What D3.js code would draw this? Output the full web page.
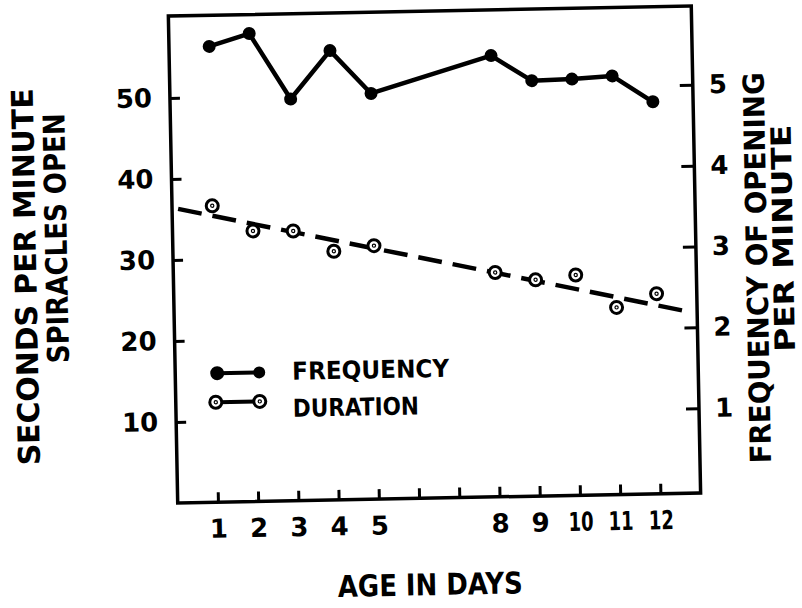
<!DOCTYPE html>
<html>

<head>
    <meta charset="utf-8" />
    <title>Spiracle opening by age</title>
    <style>
        body {
            margin: 0;
            background: #fff;
        }

        svg text {
            font-family: 'DejaVu Sans', sans-serif;
            font-weight: bold;
            fill: #000;
        }

        .tick line {
            stroke: #000;
            stroke-width: 3px;
        }
    </style>
</head>

<body>
    <div id="chart"></div>

    <script src="https://d3js.org/d3.v7.min.js"></script>
    <script>
        // values
        var days = [1, 2, 3, 4, 5, 8, 9, 10, 11, 12]
        var frequency = [5.59, 5.74, 4.92, 5.51, 4.97, 5.41, 5.09, 5.10, 5.13, 4.80]   // openings per minute (right axis)
        var duration = [36.6, 33.4, 33.3, 30.7, 31.3, 27.7, 26.7, 27.2, 23.1, 24.7]    // seconds per minute open (left axis)
        var trendDays = [0.15, 12.7]
        var trendSeconds = [36.3, 22.5]

        var dayTicks = [1, 2, 3, 4, 5, 6, 7, 8, 9, 10, 11, 12]
        var secondTicks = [10, 20, 30, 40, 50]
        var freqTicks = [1, 2, 3, 4, 5]
        var legendNames = ["FREQUENCY", "DURATION"]

        !(function() {
            "use strict"
            var width = 802,
                height = 608
            var frame = { left: 173, right: 696, top: 11, bottom: 498 }

            var svg = d3.select("#chart").append("svg")
                .attr("width", width)
                .attr("height", height)

            // the printed figure sits slightly askew on the page
            var root = svg.append("g")
                .attr("transform", "rotate(-1.1,435,255)")

            var x = d3.scaleLinear().domain([0, 13]).range([frame.left, frame.right])
            var ySec = d3.scaleLinear().domain([0, 60]).range([frame.bottom, 12])
            var yFreq = d3.scaleLinear().domain([0, 6]).range([494, 9])
            var fmt = d3.format("d")

            root.append("rect")
                .attr("x", frame.left)
                .attr("y", frame.top)
                .attr("width", frame.right - frame.left)
                .attr("height", frame.bottom - frame.top)
                .attr("fill", "none")
                .attr("stroke", "#000")
                .attr("stroke-width", 3.5)

            var xAxis = root.append("g")
                .attr("transform", "translate(0," + frame.bottom + ")")
                .call(d3.axisBottom(x)
                    .tickValues(dayTicks)
                    .tickSizeInner(-10)
                    .tickSizeOuter(0)
                    .tickPadding(17)
                    .tickFormat(function(d) {
                        return d === 6 || d === 7 ? "" : fmt(d)
                    }))
            var leftAxis = root.append("g")
                .attr("transform", "translate(" + frame.left + ",0)")
                .call(d3.axisLeft(ySec)
                    .tickValues(secondTicks)
                    .tickSizeInner(-10)
                    .tickSizeOuter(0)
                    .tickPadding(18)
                    .tickFormat(fmt))
            var rightAxis = root.append("g")
                .attr("transform", "translate(" + frame.right + ",0)")
                .call(d3.axisRight(yFreq)
                    .tickValues(freqTicks)
                    .tickSizeInner(-13)
                    .tickSizeOuter(0)
                    .tickPadding(16)
                    .tickFormat(fmt))

            ;[xAxis, leftAxis, rightAxis].forEach(function(a) {
                a.select(".domain").remove()
                a.attr("font-family", null)
                a.selectAll("text")
                    .style("font-size", "26px")
            })
            // hand-lettered two-digit day numbers are narrow
            xAxis.selectAll("text")
                .filter(function(d) { return d >= 10 })
                .attr("textLength", 25)
                .attr("lengthAdjust", "spacingAndGlyphs")

            // duration: dashed trend line with open circles
            root.append("line")
                .attr("x1", x(trendDays[0]))
                .attr("y1", ySec(trendSeconds[0]))
                .attr("x2", x(trendDays[1]))
                .attr("y2", ySec(trendSeconds[1]))
                .attr("stroke", "#000")
                .attr("stroke-width", 4.5)
                .attr("stroke-dasharray", "24,11")

            var durPts = root.append("g")
                .selectAll("g")
                .data(days)
                .enter().append("g")
                .attr("transform", function(d, i) {
                    return "translate(" + x(d) + "," + ySec(duration[i]) + ")"
                })
            openCircle(durPts)

            // frequency: solid line with filled dots
            var line = d3.line()
                .x(function(d) { return x(d) })
                .y(function(d, i) { return yFreq(frequency[i]) })

            root.append("path")
                .datum(days)
                .attr("d", line)
                .attr("fill", "none")
                .attr("stroke", "#000")
                .attr("stroke-width", 4.5)
                .attr("stroke-linejoin", "round")

            root.append("g")
                .selectAll("circle")
                .data(days)
                .enter().append("circle")
                .attr("cx", function(d) { return x(d) })
                .attr("cy", function(d, i) { return yFreq(frequency[i]) })
                .attr("r", 6.5)
                .attr("fill", "#000")

            function openCircle(sel) {
                sel.append("circle")
                    .attr("r", 6)
                    .attr("fill", "#fff")
                    .attr("stroke", "#000")
                    .attr("stroke-width", 3)
                sel.append("circle")
                    .attr("r", 1.6)
                    .attr("fill", "none")
                    .attr("stroke", "#000")
                    .attr("stroke-width", 1.2)
            }

            // legend
            var legend = root.append("g")
            var legY = [369, 398]
            legY.forEach(function(yy, i) {
                legend.append("line")
                    .attr("x1", 215).attr("x2", 257)
                    .attr("y1", yy).attr("y2", yy)
                    .attr("stroke", "#000")
                    .attr("stroke-width", 4)
                if (i === 0) {
                    legend.selectAll(null).data([215, 257]).enter().append("circle")
                        .attr("cx", function(d) { return d })
                        .attr("cy", yy)
                        .attr("r", function(d, j) { return j === 0 ? 7 : 6 })
                        .attr("fill", "#000")
                } else {
                    var g = legend.selectAll(null).data([213, 257]).enter().append("g")
                        .attr("transform", function(d) { return "translate(" + d + "," + yy + ")" })
                    openCircle(g)
                }
            })
            legend.selectAll("text")
                .data(legendNames)
                .enter().append("text")
                .attr("x", 290)
                .attr("y", function(d, i) { return i === 0 ? 377 : 414 })
                .attr("textLength", function(d, i) { return i === 0 ? 157 : 126 })
                .attr("lengthAdjust", "spacingAndGlyphs")
                .style("font-size", "24.5px")
                .text(function(d) { return d })

            // axis titles
            function title(tx, ty, rot, txt, len, size) {
                root.append("text")
                    .attr("transform", "translate(" + tx + "," + ty + ")" + (rot ? " rotate(" + rot + ")" : ""))
                    .attr("text-anchor", "middle")
                    .attr("textLength", len)
                    .attr("lengthAdjust", "spacingAndGlyphs")
                    .style("font-size", (size || 30) + "px")
                    .text(txt)
            }
            title(424, 595, 0, "AGE IN DAYS", 185)
            title(36, 269, -90, "SECONDS PER MINUTE", 377)
            title(67, 231, -90, "SPIRACLES OPEN", 250)
            title(767, 274, -90, "FREQUENCY OF OPENING", 391, 29)
            title(793, 245, -90, "PER MINUTE", 227, 28)
        }());
    </script>
</body>

</html>
